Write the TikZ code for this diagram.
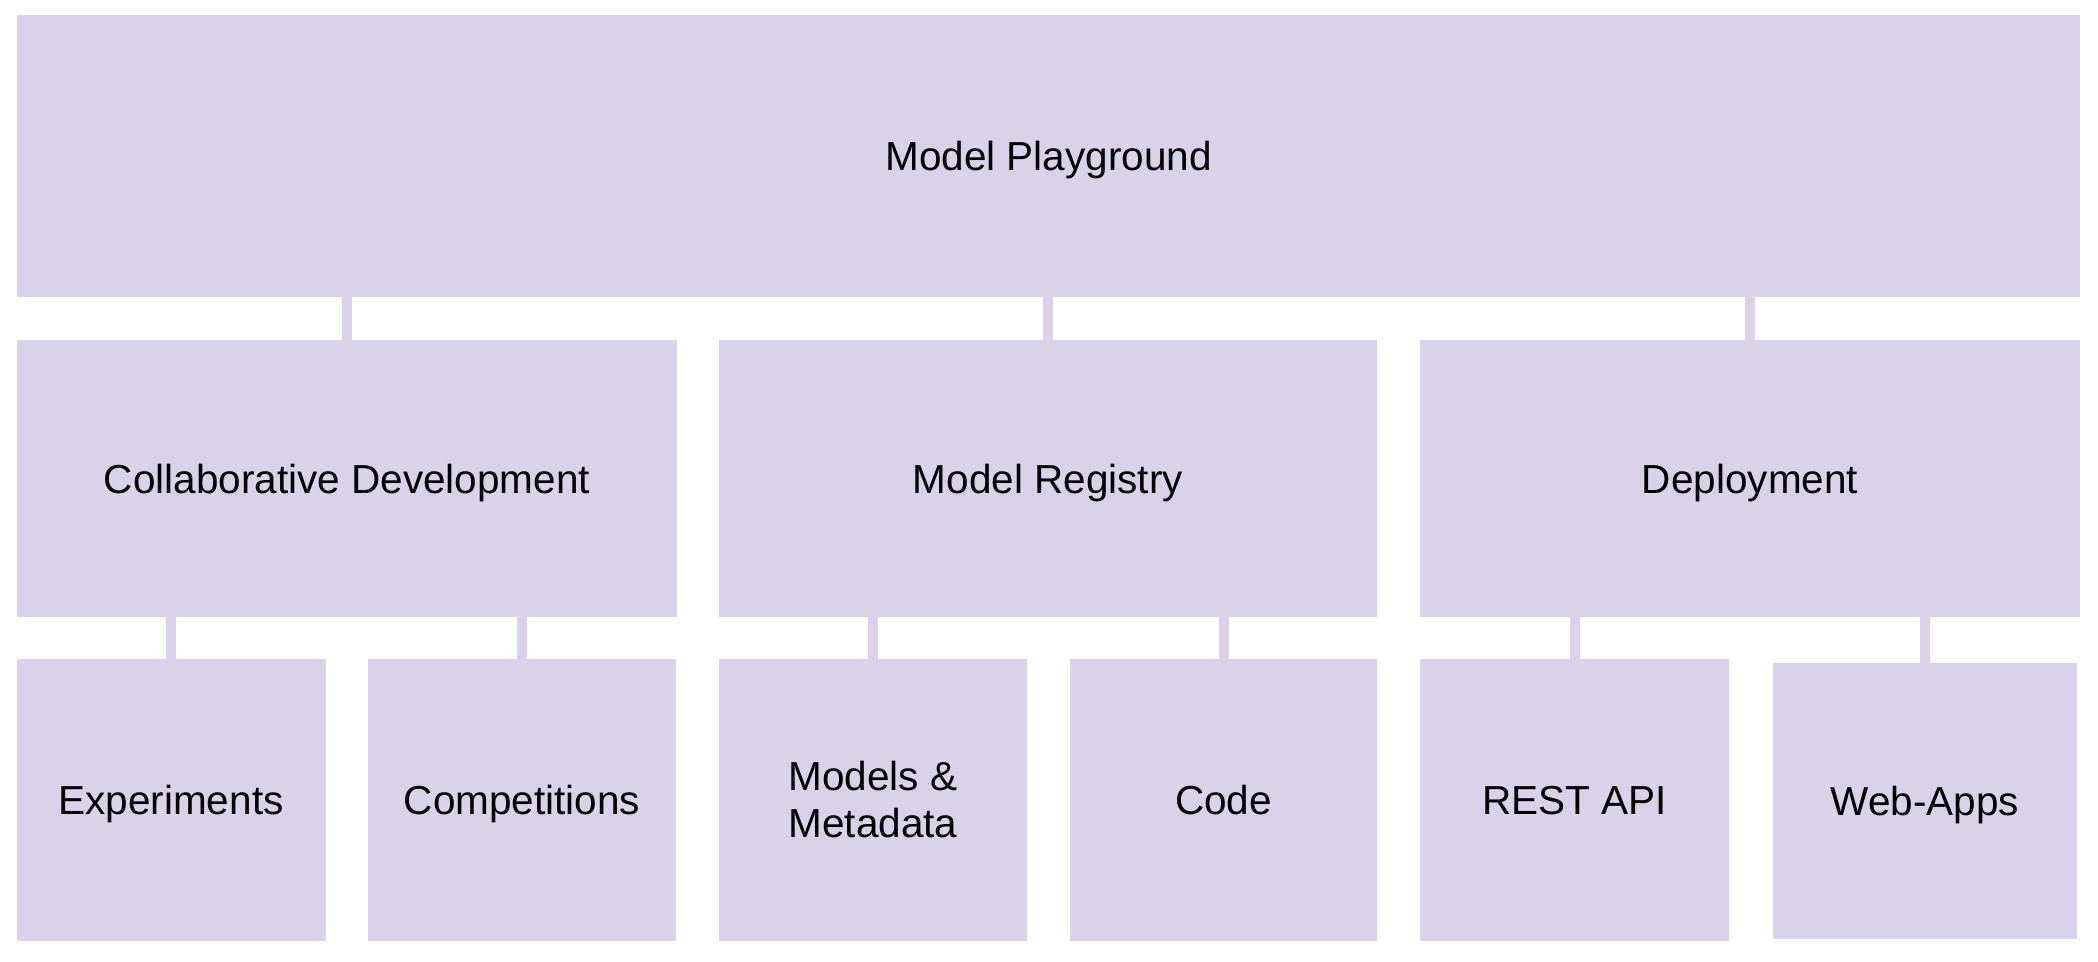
\documentclass[tikz,border=0pt]{standalone}
\usepackage{fontspec}
\setmainfont{Liberation Sans}
\definecolor{lav}{HTML}{D9D2E9}
\begin{document}
\begin{tikzpicture}[x=0.5pt,y=-0.5pt,
  box/.style={fill=lav, draw=none, inner sep=0pt, outer sep=0pt, align=center,
    font=\fontsize{20.25pt}{23.5pt}\selectfont},
  oneline/.style={text height=14.6pt, text depth=0pt},
  wh/.style 2 args={minimum width=#1*0.5pt, minimum height=#2*0.5pt},
  conn/.style={draw=lav, line width=5pt}]
\fill[white] (0,0) rectangle (2098,962);
\useasboundingbox (0,0) rectangle (2098,962);
% top
\node[box, oneline, wh={2063}{282}] (top) at (1048.5,156) {Model Playground};
% level 2
\node[box, oneline, wh={660}{277}] (cd) at (347,478.5) {Collaborative Development};
\node[box, oneline, wh={658}{277}] (mr) at (1048,478.5) {Model Registry};
\node[box, oneline, wh={660}{277}] (dep) at (1750,478.5) {Deployment};
% level 3
\node[box, oneline, wh={309}{282}] (exp) at (171,800) {Experiments};
\node[box, oneline, wh={308}{282}] (comp) at (522,800) {Competitions};
\node[box, wh={308}{282}] (mm) at (873,800) {Models \&\\Metadata};
\node[box, oneline, wh={307}{282}] (code) at (1223.5,800) {Code};
\node[box, oneline, wh={309}{282}] (rest) at (1574.5,800) {REST API};
\node[box, oneline, wh={304}{276}] (web) at (1925,801) {Web-Apps};
% connectors
\draw[conn] (cd.north) -- (cd.north |- top.south);
\draw[conn] (mr.north) -- (mr.north |- top.south);
\draw[conn] (dep.north) -- (dep.north |- top.south);
\draw[conn] (exp.north) -- (exp.north |- cd.south);
\draw[conn] (comp.north) -- (comp.north |- cd.south);
\draw[conn] (mm.north) -- (mm.north |- mr.south);
\draw[conn] (code.north) -- (code.north |- mr.south);
\draw[conn] (rest.north) -- (rest.north |- dep.south);
\draw[conn] (web.north) -- (web.north |- dep.south);
\end{tikzpicture}
\end{document}
